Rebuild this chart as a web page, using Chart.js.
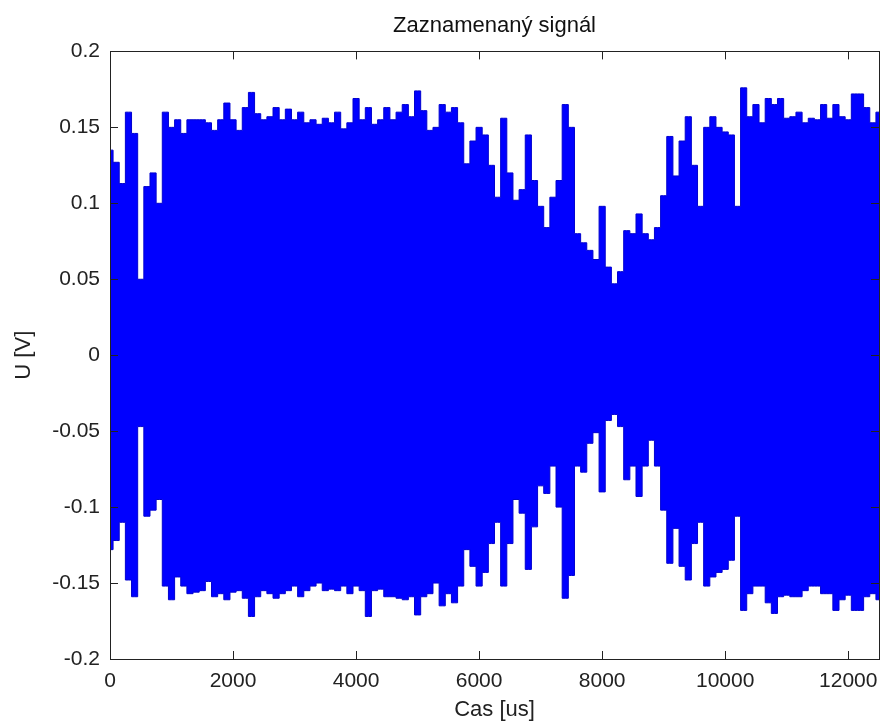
<!DOCTYPE html>
<html lang="cs">
<head>
  <meta charset="UTF-8" />
  <title>Zaznamenaný signál</title>
  <script src="https://cdn.jsdelivr.net/npm/chart.js"></script>
  <style>
    html, body { margin: 0; padding: 0; background: #ffffff; }
    #wrap { width: 882px; height: 725px; position: relative; }
  </style>
</head>
<body>
  <div id="wrap"><canvas id="signalChart"></canvas></div>

  <script>
    const sampleStepUs = 100;
    const upperV = [
      0.135, 0.127, 0.113, 0.160, 0.146, 0.050, 0.111, 0.120, 0.100, 0.160,
      0.150, 0.155, 0.146, 0.155, 0.155, 0.155, 0.153, 0.148, 0.155, 0.166,
      0.155, 0.148, 0.163, 0.173, 0.159, 0.155, 0.157, 0.163, 0.155, 0.162,
      0.155, 0.160, 0.153, 0.155, 0.152, 0.156, 0.153, 0.160, 0.149, 0.153,
      0.169, 0.155, 0.163, 0.152, 0.155, 0.163, 0.155, 0.160, 0.165, 0.157,
      0.174, 0.161, 0.148, 0.150, 0.165, 0.160, 0.163, 0.153, 0.126, 0.141,
      0.150, 0.145, 0.125, 0.104, 0.156, 0.120, 0.102, 0.109, 0.145, 0.115,
      0.098, 0.084, 0.104, 0.115, 0.165, 0.150, 0.080, 0.074, 0.069, 0.063,
      0.098, 0.058, 0.047, 0.055, 0.082, 0.080, 0.093, 0.080, 0.076, 0.084,
      0.105, 0.144, 0.118, 0.141, 0.157, 0.125, 0.098, 0.150, 0.157, 0.150,
      0.147, 0.145, 0.098, 0.176, 0.157, 0.165, 0.153, 0.169, 0.165, 0.169,
      0.156, 0.157, 0.160, 0.153, 0.156, 0.155, 0.165, 0.156, 0.165, 0.157,
      0.155, 0.172, 0.172, 0.163, 0.153, 0.160
    ];
    const lowerV = [
      -0.128, -0.122, -0.110, -0.148, -0.159, -0.047, -0.106, -0.102, -0.095, -0.152,
      -0.161, -0.146, -0.152, -0.157, -0.156, -0.155, -0.149, -0.159, -0.157, -0.161,
      -0.156, -0.155, -0.160, -0.172, -0.159, -0.155, -0.157, -0.160, -0.157, -0.155,
      -0.152, -0.159, -0.155, -0.152, -0.150, -0.155, -0.154, -0.155, -0.152, -0.157,
      -0.152, -0.155, -0.172, -0.155, -0.154, -0.159, -0.159, -0.160, -0.161, -0.159,
      -0.171, -0.159, -0.157, -0.150, -0.165, -0.157, -0.163, -0.152, -0.128, -0.139,
      -0.152, -0.143, -0.124, -0.110, -0.152, -0.124, -0.095, -0.104, -0.141, -0.113,
      -0.086, -0.091, -0.073, -0.100, -0.160, -0.145, -0.073, -0.077, -0.058, -0.051,
      -0.090, -0.043, -0.039, -0.047, -0.082, -0.073, -0.093, -0.073, -0.056, -0.073,
      -0.102, -0.137, -0.114, -0.139, -0.148, -0.124, -0.110, -0.152, -0.146, -0.143,
      -0.141, -0.135, -0.106, -0.168, -0.157, -0.152, -0.152, -0.163, -0.170, -0.159,
      -0.158, -0.159, -0.159, -0.155, -0.152, -0.152, -0.157, -0.157, -0.168, -0.161,
      -0.158, -0.168, -0.168, -0.159, -0.157, -0.161
    ];
    const timeUs = upperV.map((_, i) => i * sampleStepUs);

    const xTicks = [0, 2000, 4000, 6000, 8000, 10000, 12000];
    const yTicks = [-0.2, -0.15, -0.1, -0.05, 0, 0.05, 0.1, 0.15, 0.2];
    const yTickLabels = ['-0.2', '-0.15', '-0.1', '-0.05', '0', '0.05', '0.1', '0.15', '0.2'];

    const FONT = "'Liberation Sans', Arial, Helvetica, sans-serif";

    // matlab style box with inward ticks on all four sides
    const boxTicks = {
      id: 'boxTicks',
      afterLayout(chart) {
        // centre the title over the plot area, not the whole canvas
        if (chart.titleBlock) {
          chart.titleBlock.left = chart.chartArea.left;
          chart.titleBlock.right = chart.chartArea.right;
        }
      },
      afterDatasetsDraw(chart) {
        const { ctx, chartArea: a, scales } = chart;
        const len = 8;
        ctx.save();
        ctx.strokeStyle = '#222';
        ctx.lineWidth = 1;
        ctx.beginPath();
        xTicks.forEach(v => {
          const px = Math.round(scales.x.getPixelForValue(v)) + 0.5;
          ctx.moveTo(px, a.bottom); ctx.lineTo(px, a.bottom - len);
          ctx.moveTo(px, a.top); ctx.lineTo(px, a.top + len);
        });
        yTicks.forEach(v => {
          const py = Math.round(scales.y.getPixelForValue(v)) + 0.5;
          ctx.moveTo(a.left, py); ctx.lineTo(a.left + len, py);
          ctx.moveTo(a.right, py); ctx.lineTo(a.right - len, py);
        });
        ctx.stroke();
        ctx.strokeRect(Math.round(a.left) + 0.5, Math.round(a.top) + 0.5,
          Math.round(a.right - a.left), Math.round(a.bottom - a.top));
        ctx.restore();
      }
    };

    const ctx = document.getElementById('signalChart').getContext('2d');
    new Chart(ctx, {
      type: 'line',
      data: {
        datasets: [
          {
            label: 'dolní obálka',
            data: timeUs.map((t, i) => ({ x: t, y: lowerV[i] })),
            borderColor: '#0000d0',
            borderWidth: 1,
            backgroundColor: '#0000ff',
            pointRadius: 0,
            stepped: 'middle',
            fill: false
          },
          {
            label: 'horní obálka',
            data: timeUs.map((t, i) => ({ x: t, y: upperV[i] })),
            borderColor: '#0000d0',
            borderWidth: 1,
            backgroundColor: '#0000ff',
            pointRadius: 0,
            stepped: 'middle',
            fill: '-1'
          }
        ]
      },
      options: {
        responsive: true,
        maintainAspectRatio: false,
        animation: false,
        devicePixelRatio: 1,
        layout: { padding: { left: 0, right: 3, top: 0, bottom: 0 } },
        plugins: {
          legend: { display: false },
          tooltip: { enabled: false },
          title: {
            display: true,
            text: 'Zaznamenaný signál',
            color: '#111',
            font: { family: FONT, size: 22, weight: 'normal' },
            padding: { top: 13, bottom: 12 }
          }
        },
        scales: {
          x: {
            type: 'linear',
            min: 0,
            max: 12500,
            afterBuildTicks: s => { s.ticks = xTicks.map(v => ({ value: v })); },
            afterFit: s => { s.height = 66; s.paddingRight = 0; s.paddingLeft = 0; },
            grid: { display: false, drawTicks: false },
            border: { display: false },
            ticks: {
              color: '#222',
              padding: 10,
              maxRotation: 0,
              font: { family: FONT, size: 21 },
              callback: v => String(v)
            },
            title: {
              display: true,
              text: 'Cas [us]',
              color: '#222',
              font: { family: FONT, size: 22 },
              padding: { top: 0, bottom: 2 }
            }
          },
          y: {
            type: 'linear',
            min: -0.2,
            max: 0.2,
            afterBuildTicks: s => { s.ticks = yTicks.map(v => ({ value: v })); },
            afterFit: s => { s.width = 110; },
            grid: { display: false, drawTicks: false },
            border: { display: false },
            ticks: {
              color: '#222',
              padding: 10,
              font: { family: FONT, size: 21 },
              callback: v => yTickLabels[yTicks.findIndex(t => Math.abs(t - v) < 1e-9)]
            },
            title: {
              display: true,
              text: 'U [V]',
              color: '#222',
              font: { family: FONT, size: 22 },
              padding: { top: 11, bottom: 0 }
            }
          }
        }
      },
      plugins: [boxTicks]
    });
  </script>
</body>
</html>
